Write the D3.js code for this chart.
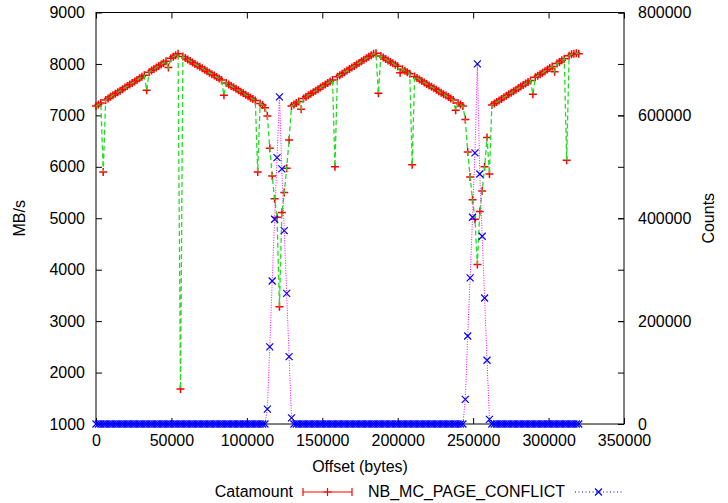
<!DOCTYPE html>
<html><head><meta charset="utf-8">
<script src="https://cdn.jsdelivr.net/npm/d3@7"></script>
<style>
body{margin:0;background:#fff}
svg{display:block}
text{font-family:"Liberation Sans",Arial,Helvetica,sans-serif;font-size:16px;fill:#000}
</style>
</head><body>
<svg id="c" width="728" height="503"></svg>
<script>
// sample spacing of the offsets (bytes)
const STEP = 1600;

// Catamount bandwidth (MB/s), one value per offset
const catamount = [
7180,7210,7240,5900,7300,7330,7360,7390,7420,7450,
7480,7510,7540,7570,7600,7630,7660,7690,7720,7750,
7780,7490,7840,7870,7900,7930,7960,7990,8020,8050,
7930,8110,8140,8170,8200,1680,8143,8115,8086,8058,
8029,8001,7972,7944,7915,7887,7858,7830,7801,7773,
7744,7716,7687,7390,7630,7602,7573,7545,7516,7488,
7459,7431,7402,7374,7345,7317,7288,5900,7231,7203,
7150,6990,6360,5820,5380,5020,3280,5110,5500,5970,
6520,7180,7210,7240,7270,7120,7330,7360,7390,7420,
7450,7480,7510,7540,7570,7600,7630,7660,7690,6000,
7750,7780,7810,7840,7870,7900,7930,7960,7990,8020,
8050,8080,8110,8140,8170,8200,8210,7430,8153,8125,
8096,8068,8039,8011,7982,7954,7830,7897,7868,7840,
7811,6040,7754,7726,7697,7669,7640,7612,7583,7555,
7526,7498,7469,7441,7412,7384,7355,7327,7298,7100,
7241,7213,7184,6920,6290,5800,5360,4980,4100,5130,
5530,6000,6570,5860,7200,7230,7260,7290,7320,7350,
7380,7410,7440,7470,7500,7530,7560,7590,7620,7650,
7680,7410,7740,7770,7800,7830,7860,7890,7920,7950,
7850,8010,8040,8070,8100,6130,8160,8190,8200,8210,
8200
];

// NB_MC_PAGE_CONFLICT counts, one value per offset
const pageConflict = [
0,0,0,0,0,0,0,0,0,0,
0,0,0,0,0,0,0,0,0,0,
0,0,0,0,0,0,0,0,0,0,
0,0,0,0,0,0,0,0,0,0,
0,0,0,0,0,0,0,0,0,0,
0,0,0,0,0,0,0,0,0,0,
0,0,0,0,0,0,0,0,0,0,
0,29000,150000,278000,398000,518000,636000,496000,376000,254000,
131000,12000,0,0,0,0,0,0,0,0,
0,0,0,0,0,0,0,0,0,0,
0,0,0,0,0,0,0,0,0,0,
0,0,0,0,0,0,0,0,0,0,
0,0,0,0,0,0,0,0,0,0,
0,0,0,0,0,0,0,0,0,0,
0,0,0,0,0,0,0,0,0,0,
0,0,0,48000,171000,284000,402000,527000,700000,486000,
365000,245000,124000,9000,0,0,0,0,0,0,
0,0,0,0,0,0,0,0,0,0,
0,0,0,0,0,0,0,0,0,0,
0,0,0,0,0,0,0,0,0,0,
0
];

const xTicks = [0,50000,100000,150000,200000,250000,300000,350000];
const yTicks = [1000,2000,3000,4000,5000,6000,7000,8000,9000];
const y2Ticks = [0,200000,400000,600000,800000];
const seriesNames = ["Catamount","NB_MC_PAGE_CONFLICT"];

const offsets = catamount.map((d,i)=>i*STEP);

const L=96, R=624, T=12.5, B=424;
const svg = d3.select("#c");
const x = d3.scaleLinear().domain([0,350000]).range([L,R]);
const y = d3.scaleLinear().domain([1000,9000]).range([B,T]);
const y2 = d3.scaleLinear().domain([0,800000]).range([B,T]);

function styleAxis(g){
  g.select(".domain").remove();
  g.selectAll(".tick line").attr("stroke","#000").attr("stroke-width",1);
  g.selectAll(".tick text").attr("font-size",16).attr("font-family","Liberation Sans, Arial, sans-serif").attr("fill","#000");
}
// left axis
svg.append("g").attr("transform",`translate(${L},0)`)
  .call(d3.axisLeft(y).tickValues(yTicks).tickFormat(d3.format("d")).tickSizeInner(-6).tickSizeOuter(0).tickPadding(11))
  .call(styleAxis);
// right mirror ticks of left axis
svg.append("g").attr("transform",`translate(${R},0)`)
  .call(d3.axisRight(y).tickValues(yTicks).tickFormat("").tickSizeInner(-6).tickSizeOuter(0))
  .call(styleAxis);
// right y2 axis
svg.append("g").attr("transform",`translate(${R},0)`)
  .call(d3.axisRight(y2).tickValues(y2Ticks).tickFormat(d3.format("d")).tickSizeInner(-6).tickSizeOuter(0).tickPadding(14))
  .call(styleAxis);
// bottom axis
svg.append("g").attr("transform",`translate(0,${B})`)
  .call(d3.axisBottom(x).tickValues(xTicks).tickFormat(d3.format("d")).tickSizeInner(-6).tickSizeOuter(0).tickPadding(11))
  .call(styleAxis);
// top mirror
svg.append("g").attr("transform",`translate(0,${T})`)
  .call(d3.axisTop(x).tickValues(xTicks).tickFormat("").tickSizeInner(-6).tickSizeOuter(0))
  .call(styleAxis);

// border
svg.append("rect").attr("x",L).attr("y",T).attr("width",R-L).attr("height",B-T)
  .attr("fill","none").attr("stroke","#000").attr("stroke-width",1);

// axis titles
svg.append("text").attr("transform",`translate(25,${(T+B)/2}) rotate(-90)`).attr("text-anchor","middle").text("MB/s");
svg.append("text").attr("transform",`translate(714,${(T+B)/2}) rotate(-90)`).attr("text-anchor","middle").text("Counts");
svg.append("text").attr("x",(L+R)/2).attr("y",472).attr("text-anchor","middle").text("Offset (bytes)");

const plus = "M-4,0H4M0,-4V4";
const cross = "M-3.5,-3.5L3.5,3.5M-3.5,3.5L3.5,-3.5";

const catData = offsets.map((o,i)=>({o, v:catamount[i]}));
const pcData = offsets.map((o,i)=>({o, v:pageConflict[i]}));

// red points
svg.append("g").selectAll("path").data(catData).join("path")
  .attr("d",plus).attr("transform",d=>`translate(${x(d.o)},${y(d.v)})`)
  .attr("stroke","#ff0000").attr("stroke-width",1.5).attr("fill","none");
// green dashed connecting line
svg.append("path").datum(catData)
  .attr("d",d3.line().x(d=>x(d.o)).y(d=>y(d.v)))
  .attr("fill","none").attr("stroke","#22dd22").attr("stroke-width",1.3).attr("stroke-dasharray","5,3");
// magenta dotted line
svg.append("path").datum(pcData)
  .attr("d",d3.line().x(d=>x(d.o)).y(d=>y2(d.v)))
  .attr("fill","none").attr("stroke","#ff00ff").attr("stroke-width",1).attr("stroke-dasharray","1,1.5");
// blue crosses
svg.append("g").selectAll("path").data(pcData).join("path")
  .attr("d",cross).attr("transform",d=>`translate(${x(d.o)},${y2(d.v)})`)
  .attr("stroke","#0000ff").attr("stroke-width",1.2).attr("fill","none");

// legend
const ly = 492;
svg.append("text").attr("x",293).attr("y",497).attr("text-anchor","end").text(seriesNames[0]);
const lg1 = svg.append("g").attr("stroke","#ff0000").attr("stroke-width",1.2);
lg1.append("line").attr("x1",303).attr("x2",352).attr("y1",ly).attr("y2",ly);
lg1.append("line").attr("x1",303).attr("x2",303).attr("y1",ly-4).attr("y2",ly+4);
lg1.append("line").attr("x1",352).attr("x2",352).attr("y1",ly-4).attr("y2",ly+4);
lg1.append("path").attr("d",plus).attr("transform",`translate(327.5,${ly})`).attr("fill","none");

svg.append("text").attr("x",565).attr("y",497).attr("text-anchor","end").text(seriesNames[1]);
const lg2 = svg.append("g").attr("stroke","#0000ff");
lg2.append("line").attr("x1",575).attr("x2",623).attr("y1",ly).attr("y2",ly).attr("stroke-dasharray","1,2.5").attr("stroke-width",1);
lg2.append("path").attr("d",cross).attr("transform",`translate(598.5,${ly})`).attr("fill","none").attr("stroke-width",1.2);
</script>
</body></html>
